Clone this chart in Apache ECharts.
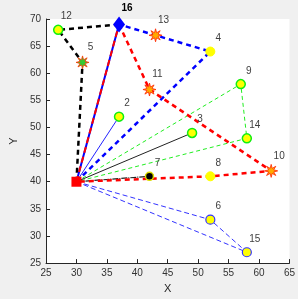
<!DOCTYPE html>
<html><head><meta charset="utf-8">
<script src="https://cdn.jsdelivr.net/npm/echarts@6/dist/echarts.min.js"></script>
<style>html,body{margin:0;padding:0;background:#f0f0f0}#c{width:298px;height:299px}</style>
</head><body><div id="c"></div>
<script>
// Node data
const nodeIds = ['S','2','3','4','5','6','7','8','9','10','11','12','13','14','15','16'];
const nodeX  = [30, 37, 49, 52, 31, 52, 42, 52, 57, 62, 42, 27, 43, 58, 58, 37];
const nodeY  = [40, 52, 49, 64, 62, 33, 41, 41, 58, 42, 57, 68, 67, 48, 27, 69];
const nodeKind = ['sink','cg','cg','cy','starg','cb','ck','cy','cg','star','star','cg','star','cg','cb','diamond'];
// Routes (node ids)
const routeBlack = ['S','5','12','16'];
const routeRedBlue = ['S','16'];
const routeBlue = ['S','4','13','16'];
const routeRed = ['16','11','10','8','S'];
const routeGreen = ['S','9','14','S'];
const routeBlack3 = ['S','3'];
const routeBlack7 = ['S','7'];
const routeBlue2 = ['S','2'];
const routeBlueThin = ['S','6','15','S'];
const xTicks = [25,30,35,40,45,50,55,60,65];
const yTicks = [25,30,35,40,45,50,55,60,65,70];

function pt(id){const i=nodeIds.indexOf(id);return [nodeX[i],nodeY[i]];}
function line(route,color,width,type,z){
  return {type:'line',data:route.map(pt),symbol:'none',silent:true,z:z||2,
    lineStyle:{color:color,width:width,type:type}};
}
// starburst symbol
function starPath(n){
  let s='path://';
  for(let k=0;k<2*n;k++){
    const r=k%2===0?10:4.2, a=Math.PI*k/n;
    s+=(k===0?'M':'L')+(10+r*Math.cos(a)).toFixed(2)+' '+(10+r*Math.sin(a)).toFixed(2)+' ';
  }
  return s+'Z';
}
const STAR=starPath(8);
const styles={
  sink:{symbol:'rect',size:10,color:'#ff0000',border:'#ff0000',bw:0},
  cg:{symbol:'circle',size:9,color:'#ffff00',border:'#11ee11',bw:1.5},
  cy:{symbol:'circle',size:9,color:'#ffff00',border:'#ffff00',bw:1},
  cb:{symbol:'circle',size:9,color:'#ffff00',border:'#3333ff',bw:1.2},
  ck:{symbol:'circle',size:8,color:'#000000',border:'#dddd00',bw:1.5},
  star:{symbol:STAR,size:13,color:'#ffaa00',border:'#ff2200',bw:0.8},
  starg:{symbol:STAR,size:13,color:'#33cc33',border:'#ff3300',bw:0.8},
  diamond:{symbol:'diamond',size:[12,16],color:'#0000ff',border:'#0000ff',bw:0}
};
const pointSeries = nodeIds.map((id,i)=>{
  const st=styles[nodeKind[i]];
  const isSink=id==='S';
  return {type:'scatter',z:5,silent:true,symbol:st.symbol,symbolSize:st.size,
    data:[[nodeX[i],nodeY[i]]],
    itemStyle:{color:st.color,borderColor:st.border,borderWidth:st.bw,opacity:1},
    label:{show:!isSink,formatter:id,position:'top',distance:3,offset:[8,0],
      fontFamily:'Liberation Sans, Arial',fontSize:10,
      fontWeight:id==='16'?'bold':'normal',color:id==='16'?'#000':'#404040'}};
});
const series=[
  line(routeGreen,'#22ee22',1,[4,3]),
  line(routeBlueThin,'#3333ff',1,[5,3]),
  line(routeBlue2,'#2222ff',1,'solid'),
  line(routeBlack3,'#222',1,'solid'),
  line(routeBlack7,'#222',1.2,[6,1,1,1]),
  line(routeBlue,'#0000ff',2.5,[5,4],3),
  line(routeRed,'#ff0000',2.5,[5,4],3),
  line(routeBlack,'#000',2.5,[5,4],3),
  line(routeRedBlue,'#0000ff',2,'solid',3),
  line(routeRedBlue,'#ff0000',2,[6,4],4)
].concat(pointSeries);

const axisCommon={
  axisLine:{show:true,lineStyle:{color:'#262626',width:1}},
  axisTick:{show:true,inside:true,length:4,lineStyle:{color:'#262626'}},
  splitLine:{show:false},
  axisLabel:{color:'#333',fontFamily:'Liberation Sans, Arial',fontSize:10,margin:5},
  nameTextStyle:{color:'#262626',fontFamily:'Liberation Sans, Arial',fontSize:11}
};
const chart=echarts.init(document.getElementById('c'),null,{renderer:'canvas'});
chart.setOption({
  animation:false,
  backgroundColor:'#f0f0f0',
  grid:{left:29,right:8,top:19,bottom:32,show:true,backgroundColor:'#ffffff',borderWidth:0},
  xAxis:Object.assign({type:'value',min:25,max:65,interval:5,name:'X',nameLocation:'middle',nameGap:19},axisCommon),
  yAxis:Object.assign({type:'value',min:25,max:70,interval:5,name:'Y',nameLocation:'middle',nameGap:21},axisCommon),
  series:series
});
</script></body></html>
